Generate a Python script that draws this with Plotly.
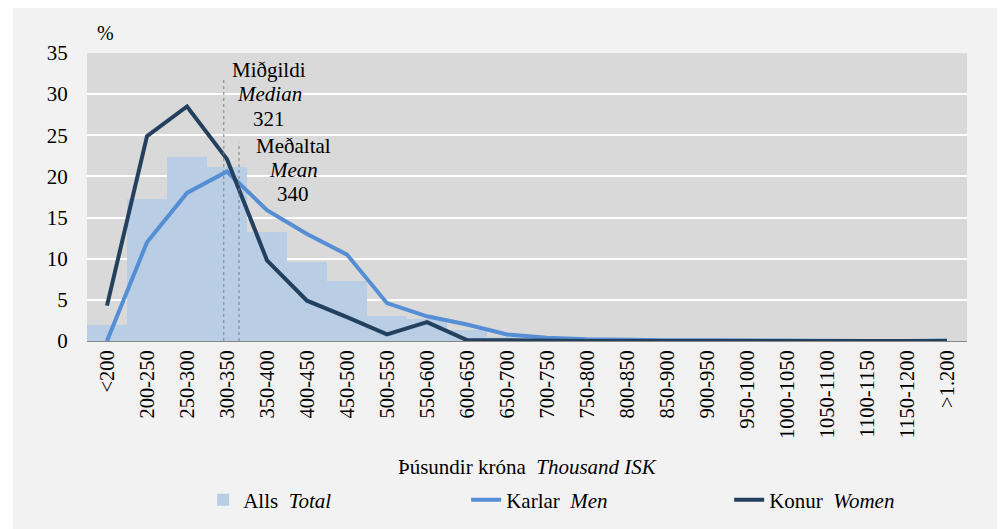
import plotly.graph_objs as go

# Tekjubil (þúsundir króna)
bins = ['<200', '200-250', '250-300', '300-350', '350-400', '400-450', '450-500',
        '500-550', '550-600', '600-650', '650-700', '700-750', '750-800', '800-850',
        '850-900', '900-950', '950-1000', '1000-1050', '1050-1100', '1100-1150',
        '1150-1200', '>1.200']

total = [2.0, 17.2, 22.4, 21.2, 13.3, 9.6, 7.3, 3.0, 2.7, 1.3, 0.5, 0.2,
         0.1, 0.1, 0.0, 0.0, 0.0, 0.0, 0.0, 0.0, 0.0, 0.0]
men = [0.0, 12.0, 18.0, 20.6, 15.9, 13.0, 10.5, 4.6, 3.0, 2.0, 0.8, 0.4,
       0.2, 0.1, 0.1, 0.1, 0.05, 0.05, 0.0, 0.0, 0.0, 0.05]
women = [4.3, 24.9, 28.5, 22.1, 9.8, 4.9, 2.9, 0.8, 2.3, 0.1, 0.1, 0.0,
         0.0, 0.0, 0.0, 0.0, 0.0, 0.0, 0.0, 0.0, 0.0, 0.0]

median_val = 321
mean_val = 340
median_lines = ['Miðgildi', '<i>Median</i>', str(median_val)]
mean_lines = ['Meðaltal', '<i>Mean</i>', str(mean_val)]

FONT = 'Liberation Serif, Times New Roman, serif'


def bin_pos(v):
    # staðsetning á flokkaás: '<200' er 0, '200-250' er 1 ...
    return (v - 200) / 50 + 0.5


fig = go.Figure()
fig.add_trace(go.Bar(x=bins, y=total, name='Alls  <i>Total</i>',
                     marker=dict(color='#b9cde5', line=dict(width=0)), width=1))
fig.add_trace(go.Scatter(x=bins, y=men, mode='lines', name='Karlar  <i>Men</i>',
                         line=dict(color='#558ed5', width=4)))
fig.add_trace(go.Scatter(x=bins, y=women, mode='lines', name='Konur  <i>Women</i>',
                         line=dict(color='#24405f', width=4)))

# miðgildi og meðaltal
for v, top in [(median_val, 31.8), (mean_val, 24.1)]:
    fig.add_shape(type='line', xref='x', yref='y', x0=bin_pos(v), x1=bin_pos(v),
                  y0=0, y1=top, line=dict(color='#7f7f7f', width=1, dash='dot'))

for lines, cx, y_top in [(median_lines, 4.06, 32.9), (mean_lines, 4.66, 23.7)]:
    for k, t in enumerate(lines):
        fig.add_annotation(x=cx, y=y_top - k * 2.93, xref='x', yref='y', showarrow=False,
                           xanchor='center', yanchor='middle', text=t,
                           font=dict(family=FONT, size=21, color='black'))

fig.add_annotation(x=0.021, y=1.069, xref='paper', yref='paper', showarrow=False,
                   xanchor='center', yanchor='middle',
                   text='%', font=dict(family=FONT, size=20, color='black'))
fig.add_annotation(x=0.5, y=-0.4375, xref='paper', yref='paper', showarrow=False,
                   xanchor='center', yanchor='middle',
                   text='Þúsundir króna  <i>Thousand ISK</i>',
                   font=dict(family=FONT, size=21, color='black'))

# hvítir kantar utan um gráa rammann
fig.add_shape(type='rect', xref='paper', yref='paper', x0=-0.2, x1=-0.0841,
              y0=-1, y1=2, fillcolor='white', line=dict(width=0), layer='below')
fig.add_shape(type='rect', xref='paper', yref='paper', x0=-0.2, x1=1.2,
              y0=1.156, y1=2, fillcolor='white', line=dict(width=0), layer='below')
fig.add_shape(type='rect', xref='paper', yref='paper', x0=1.034, x1=1.2,
              y0=-1, y1=2, fillcolor='white', line=dict(width=0), layer='below')

fig.update_layout(
    width=1002, height=529,
    margin=dict(l=87, r=35, t=53, b=188, autoexpand=False),
    paper_bgcolor='#f2f2f2', plot_bgcolor='#d9d9d9',
    font=dict(family=FONT, size=21, color='black'),
    bargap=0,
    showlegend=True,
    legend=dict(orientation='h', x=0.132, y=-0.552, xanchor='left', yanchor='middle',
                entrywidth=218, entrywidthmode='pixels',
                font=dict(family=FONT, size=21), bgcolor='rgba(0,0,0,0)'),
    xaxis=dict(type='category', tickangle=-90, showgrid=False,
               showline=True, linecolor='#868686', linewidth=1,
               range=[-0.5, len(bins) - 0.5], fixedrange=True,
               tickfont=dict(family=FONT, size=20.5)),
    yaxis=dict(range=[0, 35], dtick=5, showgrid=True, gridcolor='white', gridwidth=2,
               zeroline=False, ticks='outside', ticklen=14, tickcolor='rgba(0,0,0,0)',
               fixedrange=True, tickfont=dict(family=FONT, size=21)),
)

fig.write_html("out.html", config={'displayModeBar': False},
               post_script="document.body.style.margin='0';")
